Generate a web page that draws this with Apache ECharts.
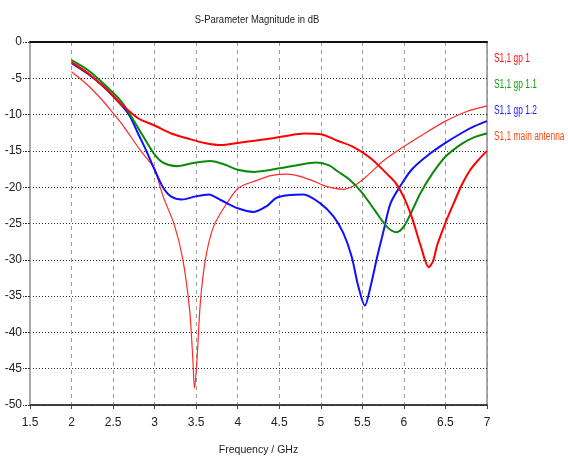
<!DOCTYPE html>
<html><head><meta charset="utf-8">
<script src="https://cdn.jsdelivr.net/npm/echarts@6/dist/echarts.min.js"></script>
<style>html,body{margin:0;padding:0;background:#fff}#c{width:568px;height:461px}</style>
</head><body><div id="c"></div>
<script>
const FONT = '"Liberation Sans",Arial,sans-serif';
const seriesNames = ['S1,1 gp 1', 'S1,1 gp 1.1', 'S1,1 gp 1.2', 'S1,1 main antenna'];
const xTicks = [1.5, 2, 2.5, 3, 3.5, 4, 4.5, 5, 5.5, 6, 6.5, 7];
const yTicks = [0, -5, -10, -15, -20, -25, -30, -35, -40, -45, -50];

const gp1F = [2, 2.2, 2.4, 2.5, 2.6, 2.8, 3.0, 3.2, 3.4, 3.6, 3.8, 4.0, 4.2, 4.4, 4.6, 4.8, 5.0, 5.2, 5.4, 5.6, 5.8, 5.9, 6.0, 6.1, 6.2, 6.3, 6.35, 6.4, 6.5, 6.6, 6.7, 6.8, 6.9, 7.0];
const gp1V = [-2.8, -4.3, -6.3, -7.4, -8.6, -10.5, -11.5, -12.6, -13.3, -13.9, -14.2, -13.9, -13.6, -13.3, -12.9, -12.6, -12.7, -13.6, -14.5, -16.0, -18.2, -19.4, -21.4, -24.3, -28.0, -31.0, -30.2, -28.0, -24.9, -22.2, -19.6, -17.6, -16.2, -15.0];

const gp11F = [2, 2.2, 2.4, 2.6, 2.8, 2.9, 3.0, 3.1, 3.27, 3.45, 3.67, 3.85, 4.0, 4.2, 4.35, 4.5, 4.7, 4.95, 5.1, 5.2, 5.35, 5.5, 5.65, 5.8, 5.91, 6.0, 6.1, 6.2, 6.35, 6.5, 6.7, 6.85, 7.0];
const gp11V = [-2.5, -3.9, -5.9, -8.2, -11.8, -13.7, -15.5, -16.6, -17.1, -16.7, -16.4, -16.9, -17.6, -17.9, -17.7, -17.4, -17.0, -16.6, -17.0, -17.8, -19.0, -20.8, -23.2, -25.5, -26.2, -25.4, -23.2, -20.8, -18.0, -15.8, -14.0, -13.1, -12.6];

const gp12F = [2, 2.2, 2.4, 2.6, 2.7, 2.8, 2.9, 3.0, 3.1, 3.2, 3.33, 3.48, 3.65, 3.8, 4.0, 4.19, 4.35, 4.46, 4.6, 4.79, 4.99, 5.15, 5.27, 5.37, 5.45, 5.53, 5.6, 5.68, 5.76, 5.84, 5.97, 6.1, 6.3, 6.5, 6.7, 6.85, 7.0];
const gp12V = [-2.9, -4.4, -6.3, -8.7, -10.2, -12.6, -15.0, -17.6, -20.0, -21.3, -21.7, -21.3, -21.0, -21.8, -22.9, -23.4, -22.6, -21.5, -21.1, -21.0, -22.2, -24.0, -26.3, -29.5, -33.6, -36.3, -33.6, -29.5, -25.8, -22.2, -19.6, -17.5, -15.5, -13.9, -12.5, -11.6, -10.9];

const mainF = [2, 2.2, 2.4, 2.5, 2.6, 2.84, 2.94, 3.0, 3.1, 3.24, 3.34, 3.42, 3.46, 3.48, 3.51, 3.55, 3.61, 3.71, 3.87, 4.01, 4.22, 4.4, 4.6, 4.75, 4.9, 5.0, 5.1, 5.27, 5.4, 5.5, 5.6, 5.75, 6.0, 6.25, 6.5, 6.75, 7.0];
const mainV = [-4.1, -6.0, -8.4, -9.8, -11.2, -15.1, -16.5, -17.5, -21.2, -25.3, -30.0, -36.8, -43.7, -47.7, -43.7, -35.9, -30.0, -25.4, -22.2, -20.1, -19.1, -18.4, -18.2, -18.5, -19.1, -19.6, -20.0, -20.3, -19.8, -19.0, -18.0, -16.4, -14.4, -12.6, -10.9, -9.6, -8.8];

const lineColors = ['#ff0000', '#0a8a0a', '#1010ff', '#ff2a2a'];
const textColors = ['#ff1010', '#10a010', '#2020ff', '#ff4a10'];
const lineWidths = [2, 2, 2, 1.2];
const fs = [gp1F, gp11F, gp12F, mainF];
const vs = [gp1V, gp11V, gp12V, mainV];

const chart = echarts.init(document.getElementById('c'), null, {renderer: 'canvas'});
chart.setOption({
  animation: false,
  backgroundColor: '#fff',
  graphic: [{
    type: 'text', x: 257, y: 14, scaleX: 0.86,
    style: {text: 'S-Parameter Magnitude in dB', fill: '#222', font: '11px ' + FONT, textAlign: 'center', textVerticalAlign: 'top'}
  }].concat(seriesNames.map((n, i) => ({
    type: 'text', x: 494, y: 59 + i * 26, scaleX: 0.7,
    style: {text: n, fill: textColors[i], font: '12px ' + FONT, textAlign: 'left', textVerticalAlign: 'middle'}
  }))),
  grid: {left: 30, right: 81, top: 42, bottom: 55, show: true, borderColor: '#a8a8a8', borderWidth: 2},
  xAxis: [{
    type: 'value', min: 1.5, max: 7, interval: 0.5, position: 'bottom',
    name: 'Frequency / GHz', nameLocation: 'middle', nameGap: 40,
    nameTextStyle: {fontFamily: FONT, fontSize: 10.5, color: '#222'},
    axisLine: {show: true, onZero: false, lineStyle: {color: '#222', width: 1.5}},
    axisTick: {show: true, length: 4, lineStyle: {color: '#444'}},
    axisLabel: {fontFamily: FONT, fontSize: 12, color: '#222', margin: 12,
      formatter: v => xTicks.includes(+v.toFixed(1)) ? String(+v.toFixed(1)) : ''},
    splitLine: {show: true, lineStyle: {color: '#9a9a9a', type: [4, 4], width: 1}}
  }, {
    type: 'value', min: 1.5, max: 7, interval: 0.5, position: 'top',
    axisLine: {show: true, onZero: false, lineStyle: {color: '#111', width: 2}},
    axisTick: {show: false}, axisLabel: {show: false}, splitLine: {show: false}
  }],
  yAxis: {
    type: 'value', min: -50, max: 0, interval: 5,
    axisLine: {show: true, onZero: false, lineStyle: {color: '#a8a8a8', width: 2}},
    axisTick: {show: true, length: 7, lineStyle: {color: '#333', type: [2, 1]}},
    axisLabel: {fontFamily: FONT, fontSize: 12, color: '#222', margin: 8,
      formatter: v => yTicks.includes(v) ? String(v) : ''},
    splitLine: {show: true, lineStyle: {color: '#222', type: [1, 2], width: 1}}
  },
  series: seriesNames.map((n, i) => ({
    name: n, type: 'line', xAxisIndex: 0, showSymbol: false, symbol: 'none',
    smooth: 0.3,
    lineStyle: {color: lineColors[i], width: lineWidths[i]},
    itemStyle: {color: lineColors[i]},
    z: 4 - i,
    data: fs[i].map((f, j) => [f, vs[i][j]])
  }))
});
</script></body></html>
